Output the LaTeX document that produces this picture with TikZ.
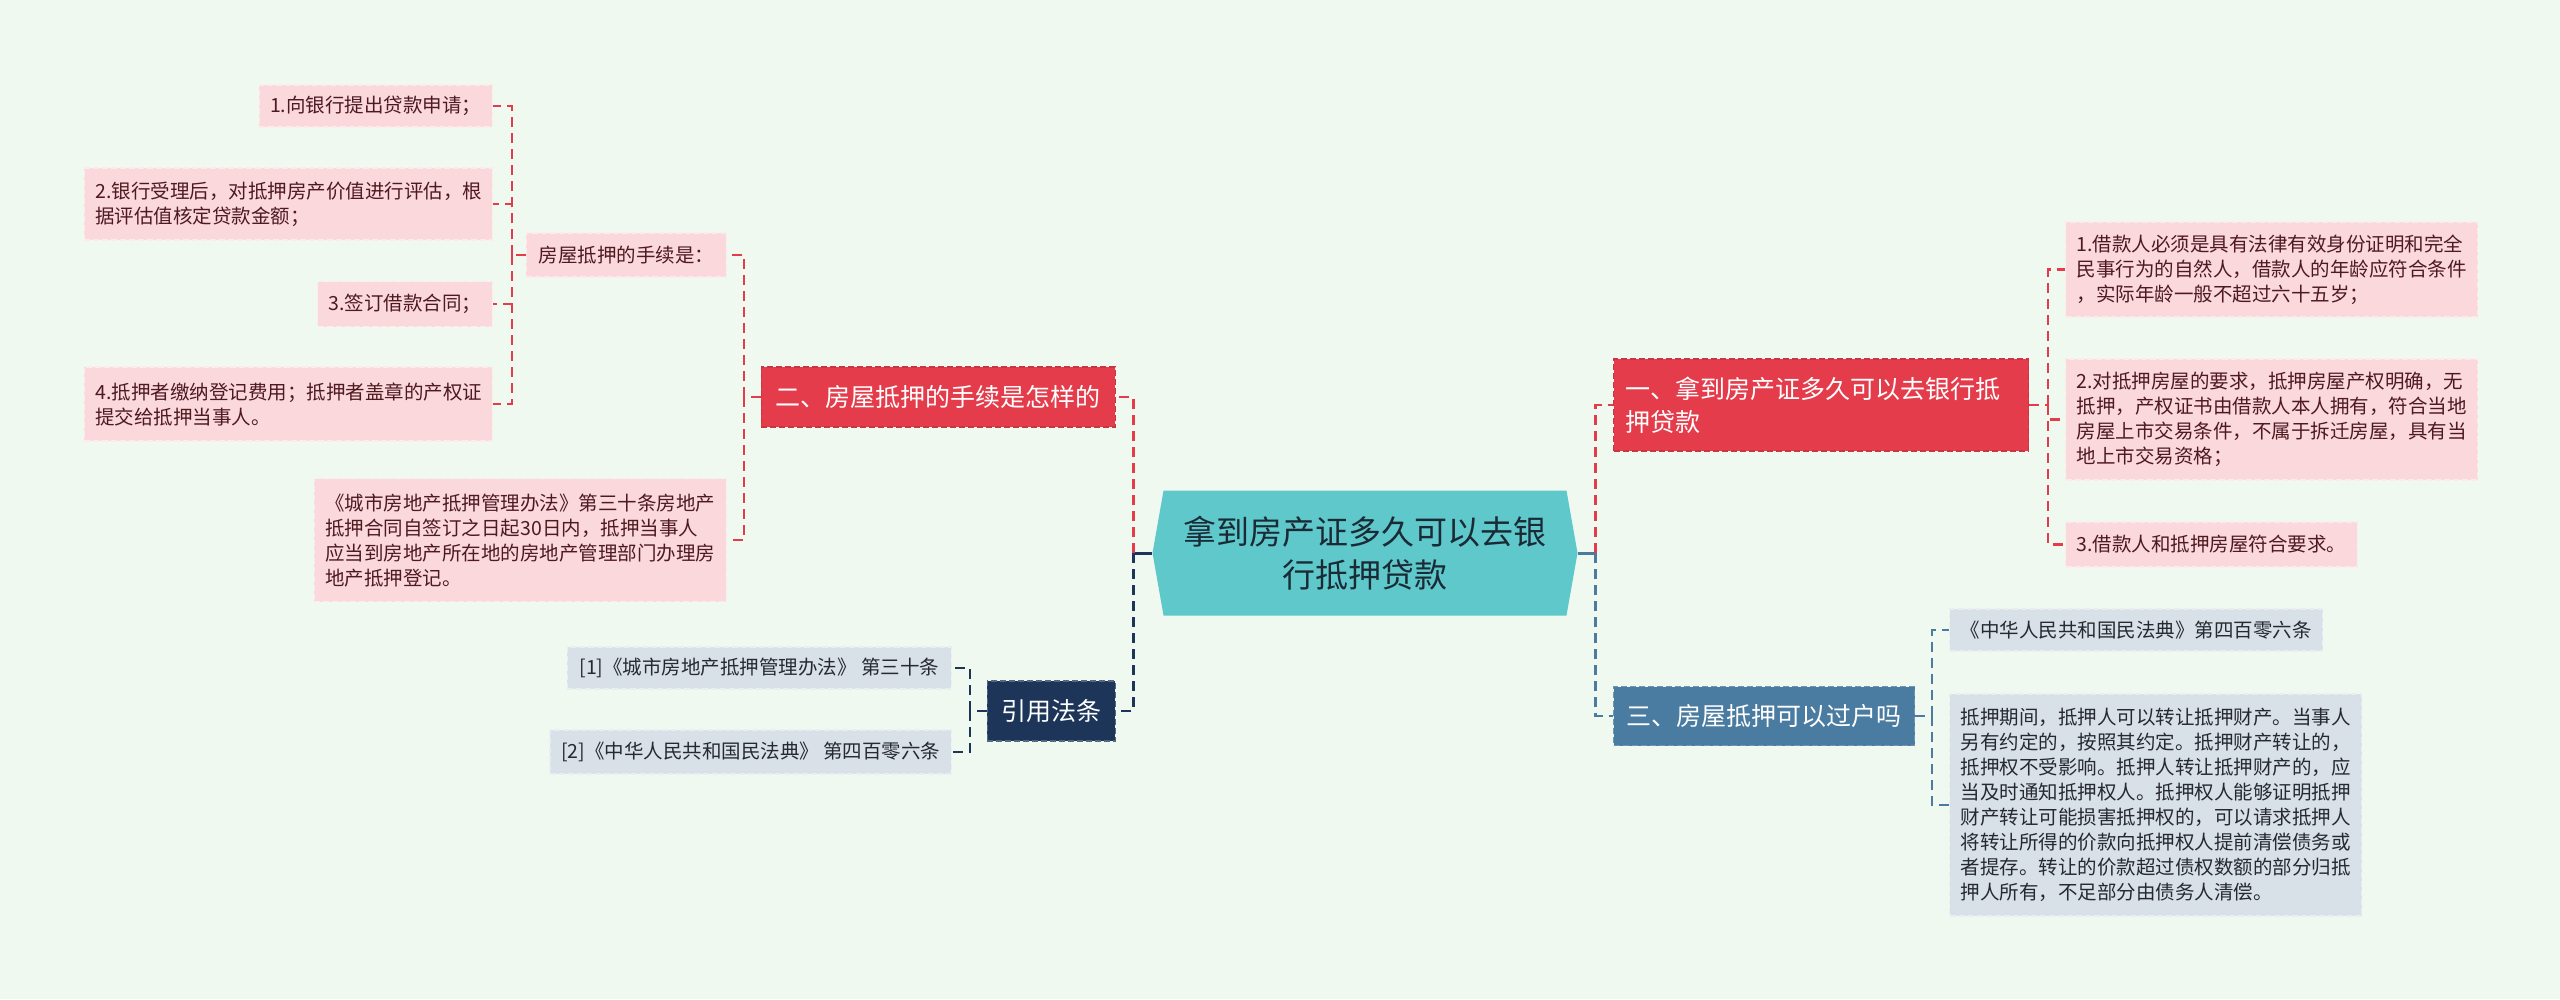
\documentclass[tikz,border=0pt]{standalone}
\usepackage{fontspec}
\setmainfont{Noto Sans CJK SC}
\usepackage{tikz}
\usetikzlibrary{positioning, shapes.symbols, calc}
\definecolor{mmbg}{HTML}{F0F9EF}
\definecolor{mmteal}{HTML}{5FC8CB}
\definecolor{mmink}{HTML}{1B2B36}
\definecolor{mmred}{HTML}{E43C4B}
\definecolor{mmpink}{HTML}{FAD8DC}
\definecolor{mmmaroon}{HTML}{4E1A20}
\definecolor{mmnavy}{HTML}{1D3558}
\definecolor{mmsteel}{HTML}{4A7BA0}
\definecolor{mmgrey}{HTML}{D8E0E8}
\definecolor{mmslate}{HTML}{262A30}
\newcommand{\mmhubfont}{\fontsize{33}{43}\selectfont}
\newcommand{\mmtopicfont}{\fontsize{25}{33}\selectfont}
\newcommand{\mmleaffont}{\fontsize{19.5}{25}\selectfont}

\begin{document}
\begin{tikzpicture}[
    x=1pt, y=-1pt,
    hub/.style={signal, signal to=west and east, signal pointer angle=160,
                fill=mmteal, text=mmink, minimum width=425pt, minimum height=125pt,
                inner sep=0pt, align=center, font=\mmhubfont},
    redtopic/.style={rectangle, fill=mmred, draw=mmred!88!black, line width=1.2pt,
                     dash pattern=on 6pt off 3pt, text=white, font=\mmtopicfont,
                     inner xsep=12pt, inner ysep=0pt, minimum height=60pt, align=left},
    navytopic/.style={redtopic, fill=mmnavy, draw=mmnavy!75!white},
    steeltopic/.style={redtopic, fill=mmsteel, draw=mmsteel!80!white},
    leaf/.style={rectangle, fill=mmpink, draw=mmpink!55!white, line width=1.2pt,
                 dash pattern=on 6pt off 3pt, text=mmmaroon, font=\mmleaffont,
                 inner xsep=11pt, inner ysep=0pt, align=left},
    citeleaf/.style={leaf, fill=mmgrey, draw=mmgrey!55!white, text=mmslate},
    redlink/.style={draw=mmred, line width=2.5pt, dash pattern=on 10pt off 6pt},
    navylink/.style={redlink, draw=mmnavy},
    steellink/.style={redlink, draw=mmsteel},
    stem/.style={line width=3pt},
]

% --- canvas ---
\fill[mmbg] (0,0) rectangle (2560,999);
\useasboundingbox (0,0) rectangle (2560,999);

% --- central topic ---
\node[hub] (root) at (1365,553) {拿到房产证多久可以去银\\行抵押贷款};

% --- left: procedure ---
\node[redtopic, minimum width=354pt, anchor=east] (howto) at (1116,397) {二、房屋抵押的手续是怎样的};
\node[leaf, minimum width=200pt, minimum height=44pt, anchor=east] (steps) at (727,255) {房屋抵押的手续是：};
\node[leaf, text width=390pt, minimum height=123pt, anchor=north east] (law) at (727,478)
    {《城市房地产抵押管理办法》第三十条房地产\\抵押合同自签订之日起30日内，抵押当事人\\应当到房地产所在地的房地产管理部门办理房\\地产抵押登记。};

\node[leaf, minimum width=232pt, minimum height=42pt, anchor=east] (step1) at (493,106) {1.向银行提出贷款申请；};
\node[leaf, text width=386pt, minimum height=72pt, anchor=east] (step2) at (493,204)
    {2.银行受理后，对抵押房产价值进行评估，根\\据评估值核定贷款金额；};
\node[leaf, minimum width=171pt, minimum height=45pt, anchor=east] (step3) at (493,304) {3.签订借款合同；};
\node[leaf, text width=386pt, minimum height=74pt, anchor=east] (step4) at (493,404)
    {4.抵押者缴纳登记费用；抵押者盖章的产权证\\提交给抵押当事人。};

% --- left: cited articles ---
\node[navytopic, minimum width=128pt, anchor=east] (cite) at (1116,711) {引用法条};
\node[citeleaf, minimum width=384pt, minimum height=42pt, anchor=east] (ref1) at (952,668) {[1]《城市房地产抵押管理办法》 第三十条};
\node[citeleaf, minimum width=400pt, minimum height=44pt, anchor=east] (ref2) at (952,752) {[2]《中华人民共和国民法典》 第四百零六条};

% --- right: when to borrow ---
\node[redtopic, text width=391pt, minimum height=92pt, anchor=west] (when) at (1613,405)
    {一、拿到房产证多久可以去银行抵\\押贷款};
\node[leaf, text width=390pt, minimum height=95pt, anchor=west] (need1) at (2065,269.5)
    {1.借款人必须是具有法律有效身份证明和完全\\民事行为的自然人，借款人的年龄应符合条件\\，实际年龄一般不超过六十五岁；};
\node[leaf, text width=390pt, minimum height=121pt, anchor=west] (need2) at (2065,419.5)
    {2.对抵押房屋的要求，抵押房屋产权明确，无\\抵押，产权证书由借款人本人拥有，符合当地\\房屋上市交易条件，不属于拆迁房屋，具有当\\地上市交易资格；};
\node[leaf, minimum width=291pt, minimum height=45pt, anchor=west] (need3) at (2065,544.5) {3.借款人和抵押房屋符合要求。};

% --- right: transfer ---
\node[steeltopic, minimum width=301pt, minimum height=59pt, anchor=west] (transfer) at (1613,716) {三、房屋抵押可以过户吗};
\node[citeleaf, minimum width=373pt, minimum height=42pt, anchor=west] (civil) at (1949,630) {《中华人民共和国民法典》第四百零六条};
\node[citeleaf, text width=390pt, minimum height=222pt, anchor=west] (rule) at (1949,805)
    {抵押期间，抵押人可以转让抵押财产。当事人\\另有约定的，按照其约定。抵押财产转让的，\\抵押权不受影响。抵押人转让抵押财产的，应\\当及时通知抵押权人。抵押权人能够证明抵押\\财产转让可能损害抵押权的，可以请求抵押人\\将转让所得的价款向抵押权人提前清偿债务或\\者提存。转让的价款超过债权数额的部分归抵\\押人所有，不足部分由债务人清偿。};

% ============== connectors ==============
\coordinate (busL) at ($(root.west)+(-19,0)$);
\coordinate (busR) at ($(root.east)+(18,0)$);
\coordinate (howtoBus) at ($(howto.west)+(-17,0)$);
\coordinate (stepsBus) at ($(steps.west)+(-14,0)$);
\coordinate (citeBus) at ($(cite.west)+(-17,0)$);
\coordinate (whenBus) at ($(when.east)+(19,0)$);
\coordinate (transferBus) at ($(transfer.east)+(17,0)$);

\draw[stem, mmnavy] (root.west) -- (busL);
\draw[redlink] (busL) |- (howto.east);
\draw[navylink] (busL) |- (cite.east);

\draw[redlink] (howto.west) -- (howtoBus);
\draw[redlink] (howtoBus) |- (steps.east);
\draw[redlink] (howtoBus) |- (law.east);

\draw[redlink] (steps.west) -- (stepsBus);
\foreach \leafname in {step1, step2, step3, step4}
    \draw[redlink] (stepsBus) |- (\leafname.east);

\draw[navylink] (cite.west) -- (citeBus);
\draw[navylink] (citeBus) |- (ref1.east);
\draw[navylink] (citeBus) |- (ref2.east);

\draw[stem, mmsteel] (root.east) -- (busR);
\draw[redlink] (busR) |- (when.west);
\draw[steellink] (busR) |- (transfer.west);

\draw[redlink] (when.east) -- (whenBus);
\foreach \leafname in {need1, need2, need3}
    \draw[redlink] (whenBus) |- (\leafname.west);

\draw[steellink] (transfer.east) -- (transferBus);
\draw[steellink] (transferBus) |- (civil.west);
\draw[steellink] (transferBus) |- (rule.west);

\end{tikzpicture}
\end{document}
